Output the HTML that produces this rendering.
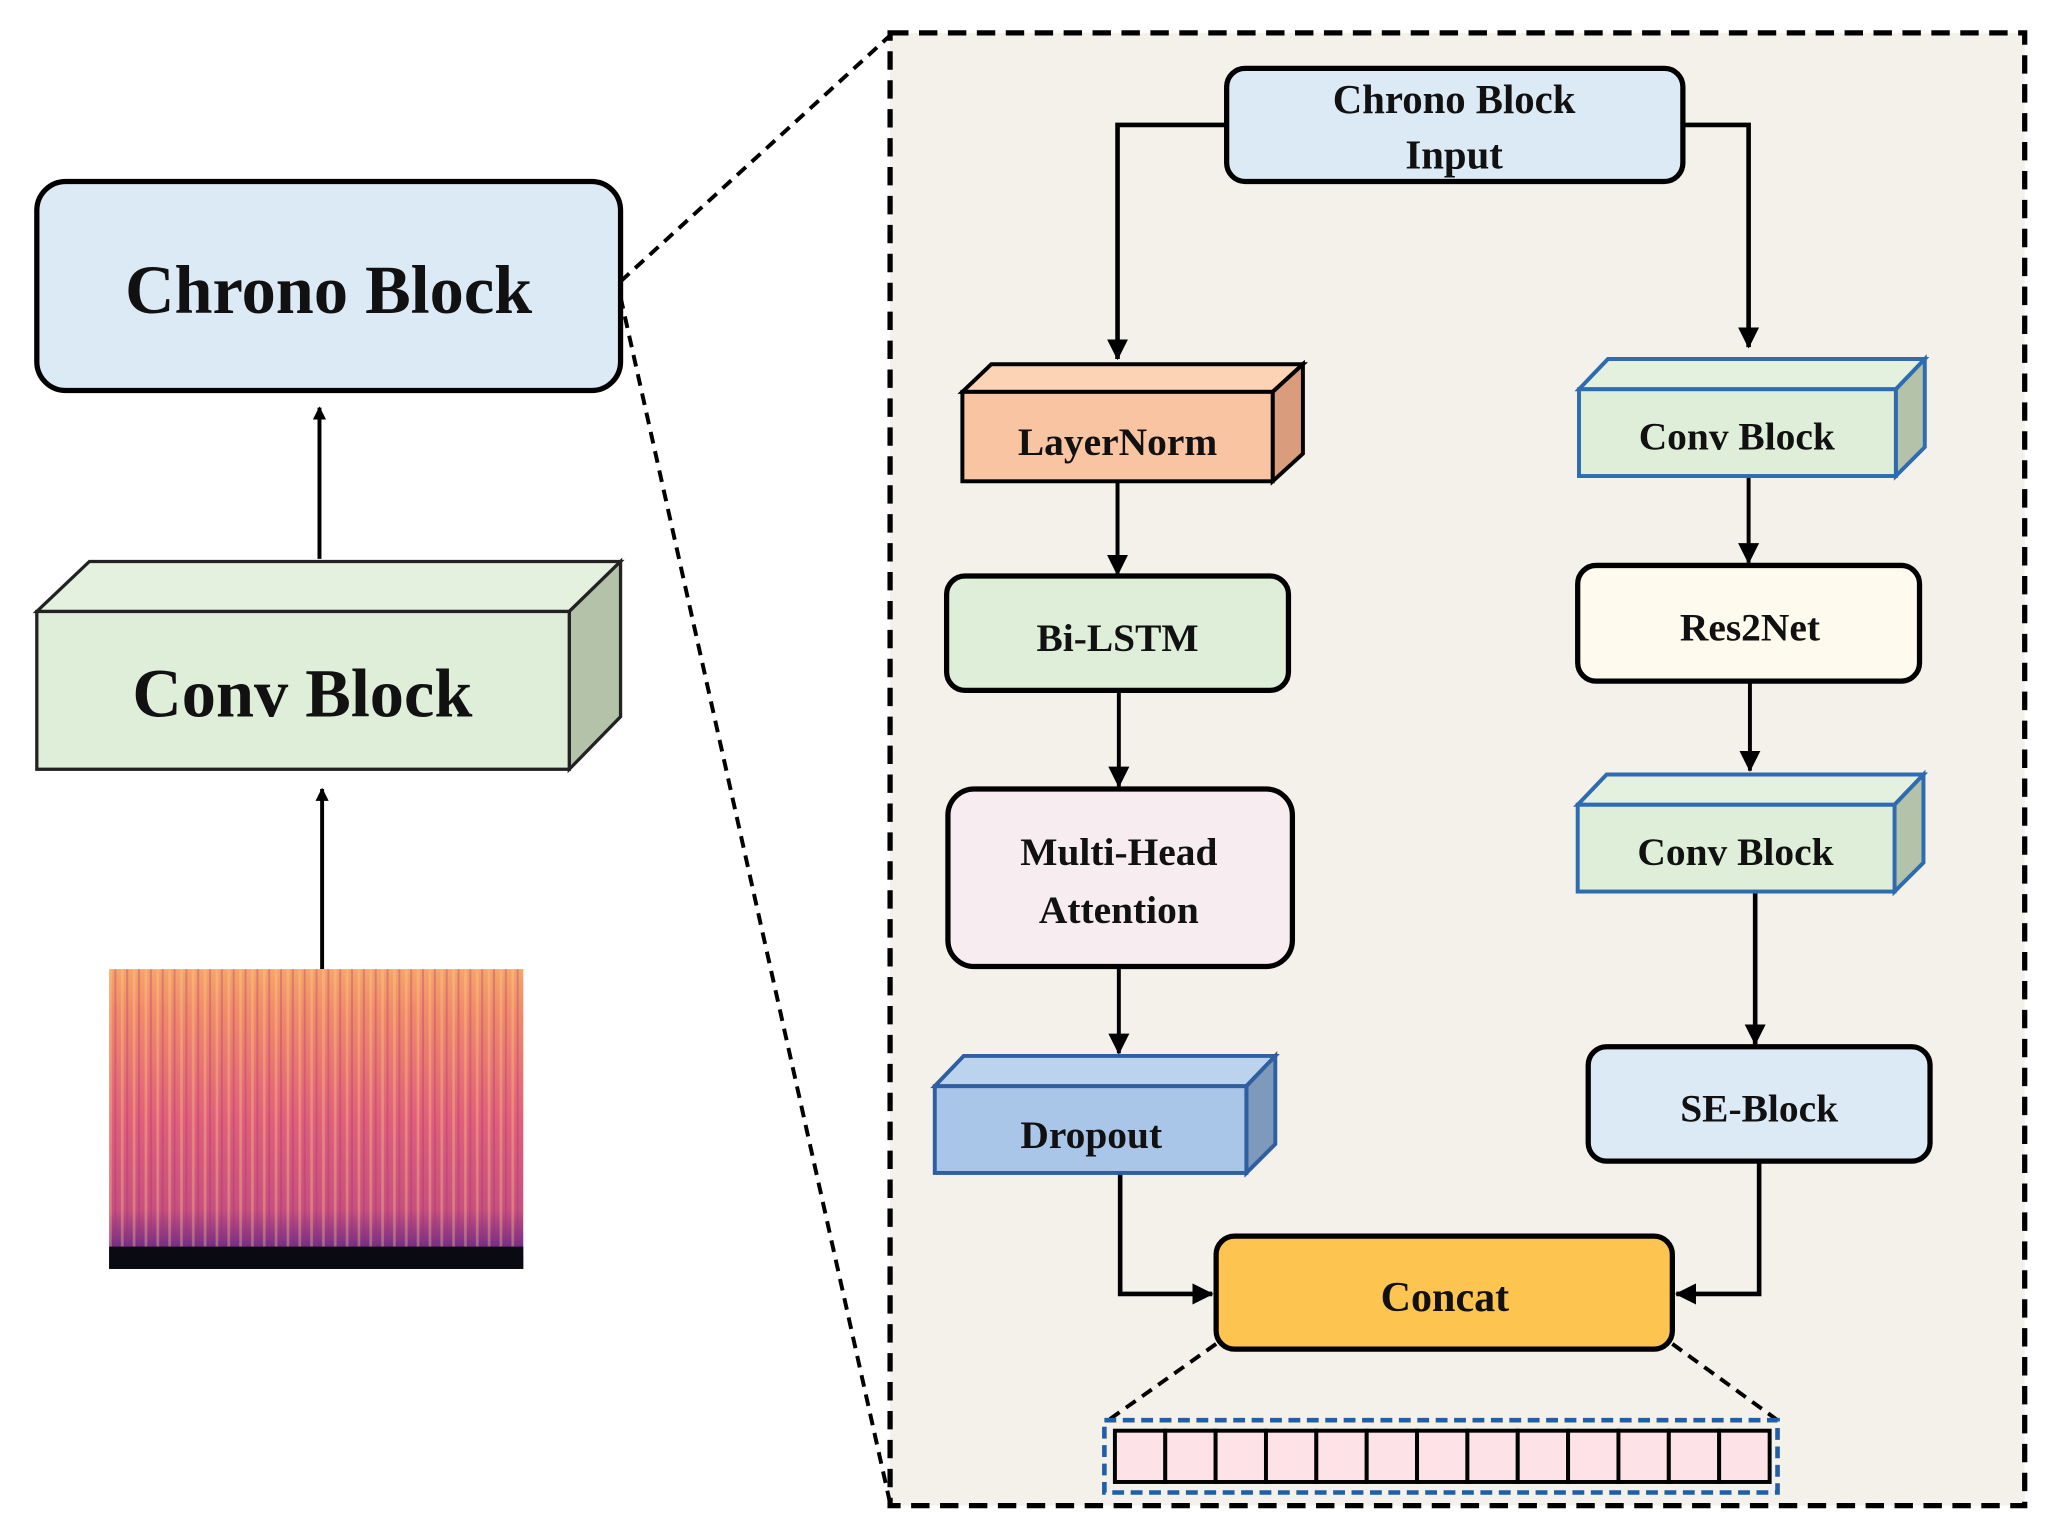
<!DOCTYPE html>
<html><head><meta charset="utf-8"><style>html,body{margin:0;padding:0;background:#fff}svg{display:block}text{font-family:"Liberation Serif",serif;font-weight:bold;fill:#111;text-anchor:middle}</style></head>
<body>
<svg width="2051" height="1528" viewBox="0 0 1560 1162" preserveAspectRatio="none" xmlns="http://www.w3.org/2000/svg">
<defs>
<marker id="a" markerWidth="10" markerHeight="10" refX="9" refY="5" orient="auto" markerUnits="userSpaceOnUse" viewBox="0 0 10 10"><path d="M0,0 L10,5 L0,10 z" fill="#000"/></marker>
<marker id="b" markerWidth="16" markerHeight="16" refX="15" refY="8" orient="auto" markerUnits="userSpaceOnUse" viewBox="0 0 16 16"><path d="M0,0 L16,8 L0,16 z" fill="#000"/></marker>
<linearGradient id="sg" x1="0" y1="0" x2="0" y2="1">
<stop offset="0" stop-color="#f6a46a"/><stop offset="0.15" stop-color="#f08a6a"/><stop offset="0.5" stop-color="#e0607a"/><stop offset="0.8" stop-color="#c8507e"/><stop offset="0.92" stop-color="#7a2f86"/><stop offset="1" stop-color="#4a1a6a"/></linearGradient>
<pattern id="vs" width="9" height="300" patternUnits="userSpaceOnUse"><rect x="2" y="0" width="2" height="300" fill="#ffd08a" opacity="0.35"/><rect x="6" y="0" width="1.5" height="300" fill="#9a2f78" opacity="0.3"/></pattern>
</defs>
<rect x="677" y="25" width="863" height="1120" fill="#f4f0ea" stroke="#000" stroke-width="4" stroke-dasharray="14,8"/>
<line x1="472" y1="214" x2="677" y2="27" stroke="#000" stroke-width="3" stroke-dasharray="9,6"/>
<line x1="472" y1="226" x2="677" y2="1143" stroke="#000" stroke-width="3" stroke-dasharray="9,6"/>
<!-- left -->
<rect x="28" y="138" width="444" height="159" rx="22" fill="#dceaf6" stroke="#000" stroke-width="4"/>
<text x="250" y="238" font-size="52">Chrono Block</text>
<line x1="243" y1="425" x2="243" y2="310" stroke="#000" stroke-width="3" marker-end="url(#a)"/>
<polygon points="28,465 68,427 472,427 433,465" fill="#e4f1de" stroke="#222" stroke-width="2.5"/>
<polygon points="433,465 472,427 472,545 433,585" fill="#b3c2a9" stroke="#222" stroke-width="2.5"/>
<rect x="28" y="465" width="405" height="120" fill="#dfeed8" stroke="#222" stroke-width="2.5"/>
<text x="230" y="545" font-size="52">Conv Block</text>
<line x1="245" y1="737" x2="245" y2="600" stroke="#000" stroke-width="3" marker-end="url(#a)"/>
<rect x="83" y="737" width="315" height="228" fill="url(#sg)"/>
<rect x="83" y="737" width="315" height="211" fill="url(#vs)"/>
<rect x="83" y="948" width="315" height="17" fill="#0a0a12"/>
<!-- right connectors -->
<polyline points="933,95 850,95 850,273" fill="none" stroke="#000" stroke-width="3.5" marker-end="url(#b)"/>
<polyline points="1280,95 1330,95 1330,264" fill="none" stroke="#000" stroke-width="3.5" marker-end="url(#b)"/>
<line x1="850" y1="366" x2="850" y2="437" stroke="#000" stroke-width="3" marker-end="url(#b)"/>
<line x1="851" y1="525" x2="851" y2="598" stroke="#000" stroke-width="3" marker-end="url(#b)"/>
<line x1="851" y1="735" x2="851" y2="801" stroke="#000" stroke-width="3" marker-end="url(#b)"/>
<polyline points="852,892 852,984 922,984" fill="none" stroke="#000" stroke-width="3.5" marker-end="url(#b)"/>
<line x1="1330" y1="362" x2="1330" y2="428" stroke="#000" stroke-width="3" marker-end="url(#b)"/>
<line x1="1331" y1="518" x2="1331" y2="586" stroke="#000" stroke-width="3" marker-end="url(#b)"/>
<line x1="1335" y1="678" x2="1335" y2="794" stroke="#000" stroke-width="3.5" marker-end="url(#b)"/>
<polyline points="1338,883 1338,984 1275,984" fill="none" stroke="#000" stroke-width="3.5" marker-end="url(#b)"/>
<!-- right nodes -->
<rect x="933" y="52" width="347" height="86" rx="14" fill="#dceaf6" stroke="#000" stroke-width="4"/>
<text x="1106" y="86" font-size="31">Chrono Block</text>
<text x="1106" y="128" font-size="31">Input</text>
<polygon points="732,298 754,277 991,277 968,298" fill="#fdd3b6" stroke="#000" stroke-width="3"/>
<polygon points="968,298 991,277 991,345 968,366" fill="#d99c7d" stroke="#000" stroke-width="3"/>
<rect x="732" y="298" width="236" height="68" fill="#f9c4a1" stroke="#000" stroke-width="3"/>
<text x="850" y="346" font-size="30">LayerNorm</text>
<rect x="720" y="438" width="260" height="87" rx="14" fill="#deeed9" stroke="#000" stroke-width="4"/>
<text x="850" y="495" font-size="30">Bi-LSTM</text>
<rect x="721" y="600" width="262" height="135" rx="20" fill="#f7ecef" stroke="#000" stroke-width="4"/>
<text x="851" y="658" font-size="30">Multi-Head</text>
<text x="851" y="702" font-size="30">Attention</text>
<polygon points="711,826 733,803 970,803 948,826" fill="#bcd3ee" stroke="#2f5fa0" stroke-width="3"/>
<polygon points="948,826 970,803 970,870 948,892" fill="#7f99bc" stroke="#2f5fa0" stroke-width="3"/>
<rect x="711" y="826" width="237" height="66" fill="#a9c6e8" stroke="#2f5fa0" stroke-width="3"/>
<text x="830" y="873" font-size="30">Dropout</text>
<polygon points="1201,296 1223,273 1464,273 1442,296" fill="#e4f1de" stroke="#2e6bb0" stroke-width="3"/>
<polygon points="1442,296 1464,273 1464,340 1442,362" fill="#b3c2a9" stroke="#2e6bb0" stroke-width="3"/>
<rect x="1201" y="296" width="241" height="66" fill="#dfeed8" stroke="#2e6bb0" stroke-width="3"/>
<text x="1321" y="342" font-size="30">Conv Block</text>
<rect x="1200" y="430" width="260" height="88" rx="14" fill="#fefbee" stroke="#000" stroke-width="4"/>
<text x="1331" y="487" font-size="30">Res2Net</text>
<polygon points="1200,612 1222,589 1463,589 1441,612" fill="#e4f1de" stroke="#2e6bb0" stroke-width="3"/>
<polygon points="1441,612 1463,589 1463,656 1441,678" fill="#b3c2a9" stroke="#2e6bb0" stroke-width="3"/>
<rect x="1200" y="612" width="241" height="66" fill="#dfeed8" stroke="#2e6bb0" stroke-width="3"/>
<text x="1320" y="658" font-size="30">Conv Block</text>
<rect x="1208" y="796" width="260" height="87" rx="14" fill="#dceaf6" stroke="#000" stroke-width="4"/>
<text x="1338" y="853" font-size="30">SE-Block</text>
<rect x="925" y="940" width="347" height="86" rx="14" fill="#fdc44f" stroke="#000" stroke-width="4"/>
<text x="1099" y="997" font-size="32">Concat</text>
<line x1="925" y1="1022" x2="843" y2="1080" stroke="#000" stroke-width="3" stroke-dasharray="9,6"/>
<line x1="1272" y1="1022" x2="1352" y2="1080" stroke="#000" stroke-width="3" stroke-dasharray="9,6"/>
<rect x="840" y="1080" width="512" height="55" fill="none" stroke="#1f5fa8" stroke-width="3.5" stroke-dasharray="9,5"/>
<g fill="#fde3e8" stroke="#000" stroke-width="3">
<rect x="848" y="1088" width="38.3" height="39"/><rect x="886.3" y="1088" width="38.3" height="39"/><rect x="924.6" y="1088" width="38.3" height="39"/><rect x="962.9" y="1088" width="38.3" height="39"/><rect x="1001.2" y="1088" width="38.3" height="39"/><rect x="1039.5" y="1088" width="38.3" height="39"/><rect x="1077.8" y="1088" width="38.3" height="39"/><rect x="1116.1" y="1088" width="38.3" height="39"/><rect x="1154.4" y="1088" width="38.3" height="39"/><rect x="1192.7" y="1088" width="38.3" height="39"/><rect x="1231" y="1088" width="38.3" height="39"/><rect x="1269.3" y="1088" width="38.3" height="39"/><rect x="1307.6" y="1088" width="38.4" height="39"/>
</g>
</svg>
</body></html>
